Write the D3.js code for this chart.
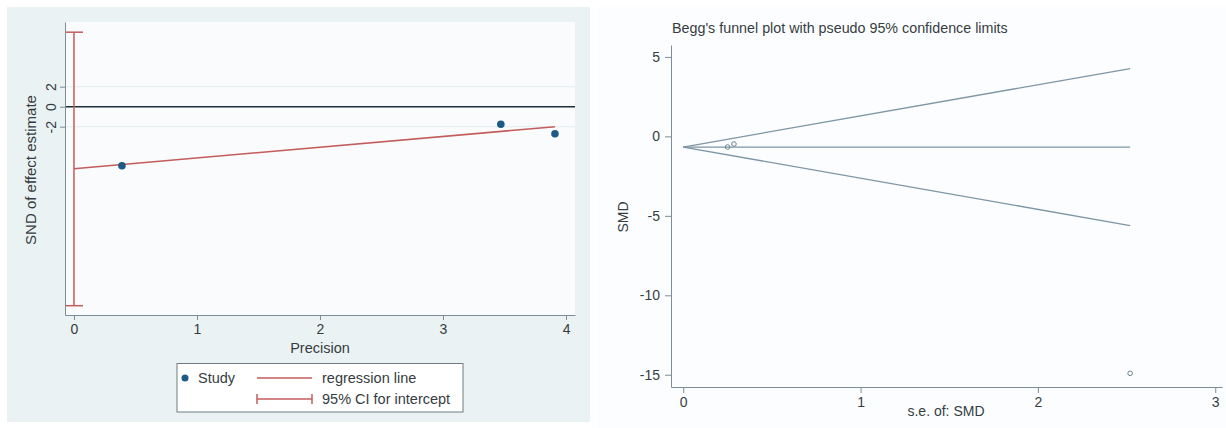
<!DOCTYPE html>
<html lang="en">
<head>
<meta charset="UTF-8">
<title>Egger and Begg plots</title>
<script src="https://d3js.org/d3.v7.min.js"></script>
<style>
    body { margin: 0; background: #ffffff; }
    svg text { font-family: "Liberation Sans", Arial, sans-serif; fill: #363d42; }
    .axis path, .axis line { stroke: #7d8d97; }
</style>
</head>
<body>
<svg width="1226" height="428"></svg>
<script>
    // ---- Egger (left) data ----
    const precision = [0.39, 3.47, 3.91];
    const snd = [-5.9, -1.76, -2.7];
    const regX = [0, 3.91];
    const regY = [-6.2, -2.0];
    const ciIntercept = [-19.9, 7.45];
    const leftXTicks = [0, 1, 2, 3, 4];
    const leftYTicks = [-2, 0, 2];

    // ---- Begg (right) data ----
    const seSmd = [0.25, 0.286, 2.52];
    const smd = [-0.67, -0.48, -14.91];
    const funnelSe = [0, 2.52];
    const funnelUpper = [-0.67, 4.27];
    const funnelMid = [-0.67, -0.67];
    const funnelLower = [-0.67, -5.61];
    const rightXTicks = [0, 1, 2, 3];
    const rightYTicks = [5, 0, -5, -10, -15];

    const svg = d3.select("svg");
    const fmt = d => String(d);

    // ================= left panel =================
    svg.append("rect").attr("x", 7).attr("y", 7).attr("width", 583).attr("height", 415).attr("fill", "#eaf2f3");
    svg.append("rect").attr("x", 65).attr("y", 22).attr("width", 510).attr("height", 293).attr("fill", "#f9fbfc");

    const x1 = d3.scaleLinear().domain([-0.073, 4.073]).range([65, 575]);
    const y1 = d3.scaleLinear().domain([-20.83, 8.47]).range([315, 22]);

    // faint grid at labelled ticks
    svg.append("g").selectAll("line").data(leftYTicks.filter(d => d !== 0)).join("line")
        .attr("x1", 65).attr("x2", 575)
        .attr("y1", d => y1(d)).attr("y2", d => y1(d))
        .attr("stroke", "#e3ecef").attr("stroke-width", 1);

    // reference line at 0
    svg.append("line").attr("x1", 65).attr("x2", 575).attr("y1", y1(0)).attr("y2", y1(0))
        .attr("stroke", "#1e2e36").attr("stroke-width", 1.5);

    // CI for intercept
    const ci = svg.append("g").attr("stroke", "#c45c5c").attr("stroke-width", 1.5);
    ci.append("line").attr("x1", x1(0)).attr("x2", x1(0)).attr("y1", y1(ciIntercept[0])).attr("y2", y1(ciIntercept[1]));
    ciIntercept.forEach(v => {
        ci.append("line").attr("x1", x1(0) - 9).attr("x2", x1(0) + 9).attr("y1", y1(v)).attr("y2", y1(v));
    });

    // regression line
    svg.append("line").attr("x1", x1(regX[0])).attr("x2", x1(regX[1]))
        .attr("y1", y1(regY[0])).attr("y2", y1(regY[1]))
        .attr("stroke", "#c45c5c").attr("stroke-width", 1.5);

    // studies
    svg.append("g").selectAll("circle").data(precision).join("circle")
        .attr("cx", d => x1(d)).attr("cy", (d, i) => y1(snd[i]))
        .attr("r", 3.8).attr("fill", "#1f5a85");

    // axes
    const xa1 = svg.append("g").attr("class", "axis").attr("transform", "translate(0,315)")
        .call(d3.axisBottom(x1).tickValues(leftXTicks).tickSize(5).tickSizeOuter(0).tickPadding(4).tickFormat(fmt));
    xa1.selectAll("text").style("font-size", "14px");
    const ya1 = svg.append("g").attr("class", "axis").attr("transform", "translate(65,0)")
        .call(d3.axisLeft(y1).tickValues(leftYTicks).tickSize(5).tickSizeOuter(0).tickFormat(fmt));
    ya1.selectAll("text").style("font-size", "14px")
        .attr("transform", "rotate(-90)").attr("text-anchor", "middle")
        .attr("x", 0).attr("y", -9).attr("dy", 0);

    svg.append("text").attr("x", 320).attr("y", 353).attr("text-anchor", "middle")
        .style("font-size", "14.5px").text("Precision");
    svg.append("text").attr("transform", "translate(36,170) rotate(-90)").attr("text-anchor", "middle")
        .style("font-size", "15px").text("SND of effect estimate");

    // legend
    const lg = svg.append("g");
    lg.append("rect").attr("x", 177).attr("y", 363.5).attr("width", 286).attr("height", 48.5)
        .attr("fill", "#ffffff").attr("stroke", "#6f7c84").attr("stroke-width", 1);
    lg.append("circle").attr("cx", 185).attr("cy", 378).attr("r", 3.5).attr("fill", "#1f5a85");
    lg.append("text").attr("x", 198).attr("y", 383).style("font-size", "14.5px").text("Study");
    lg.append("line").attr("x1", 257).attr("x2", 312).attr("y1", 378).attr("y2", 378)
        .attr("stroke", "#c45c5c").attr("stroke-width", 1.5);
    lg.append("text").attr("x", 322).attr("y", 383).style("font-size", "14.5px").text("regression line");
    const lci = lg.append("g").attr("stroke", "#c45c5c").attr("stroke-width", 1.5);
    lci.append("line").attr("x1", 257).attr("x2", 312).attr("y1", 399).attr("y2", 399);
    lci.append("line").attr("x1", 257).attr("x2", 257).attr("y1", 394).attr("y2", 404);
    lci.append("line").attr("x1", 312).attr("x2", 312).attr("y1", 394).attr("y2", 404);
    lg.append("text").attr("x", 322).attr("y", 404).style("font-size", "14.5px").text("95% CI for intercept");

    // ================= right panel =================
    svg.append("rect").attr("x", 597).attr("y", 7).attr("width", 629).attr("height", 421).attr("fill", "#fcfdfe");

    const x2 = d3.scaleLinear().domain([-0.069, 3.038]).range([671, 1222]);
    const y2 = d3.scaleLinear().domain([-15.77, 5.75]).range([387, 45]);

    svg.append("text").attr("x", 672).attr("y", 33).style("font-size", "14.3px")
        .text("Begg's funnel plot with pseudo 95% confidence limits");

    const line2 = d3.line().x(d => x2(d[0])).y(d => y2(d[1]));
    [funnelUpper, funnelMid, funnelLower].forEach(lim => {
        svg.append("path").datum(funnelSe.map((s, i) => [s, lim[i]]))
            .attr("d", line2).attr("fill", "none")
            .attr("stroke", "#7d96a5").attr("stroke-width", 1.3);
    });

    svg.append("g").selectAll("circle").data(seSmd).join("circle")
        .attr("cx", d => x2(d)).attr("cy", (d, i) => y2(smd[i]))
        .attr("r", 2.3).attr("fill", "none").attr("stroke", "#6d8390").attr("stroke-width", 1);

    const xa2 = svg.append("g").attr("class", "axis").attr("transform", "translate(0,387)")
        .call(d3.axisBottom(x2).tickValues(rightXTicks).tickSize(6).tickSizeOuter(0).tickPadding(4).tickFormat(fmt));
    xa2.selectAll("text").style("font-size", "14px");
    const ya2 = svg.append("g").attr("class", "axis").attr("transform", "translate(671,0)")
        .call(d3.axisLeft(y2).tickValues(rightYTicks).tickSize(6).tickSizeOuter(0).tickPadding(5).tickFormat(fmt));
    ya2.selectAll("text").style("font-size", "14px");
    svg.selectAll(".axis .domain").attr("stroke", "#8d9ea8");
    svg.selectAll(".axis line").attr("stroke", "#8d9ea8");

    svg.append("text").attr("x", 946).attr("y", 416).attr("text-anchor", "middle")
        .style("font-size", "14px").text("s.e. of: SMD");
    svg.append("text").attr("transform", "translate(628,217) rotate(-90)").attr("text-anchor", "middle")
        .style("font-size", "14px").text("SMD");
</script>
</body>
</html>
